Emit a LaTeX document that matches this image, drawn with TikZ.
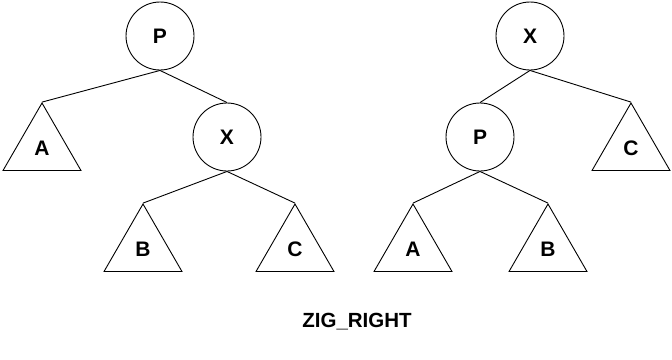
\documentclass[tikz,border=0pt]{standalone}
\usepackage{fontspec}
\setmainfont{Liberation Sans}
\usetikzlibrary{shapes.geometric}
\begin{document}
\begin{tikzpicture}[
    x=1pt, y=-1pt, line width=0.9pt,
    every node/.style={font=\bfseries\fontsize{21}{24}\selectfont},
    % Key node style
    key node/.style={
        circle, draw, minimum size=68pt, inner sep=0pt
    },
    % Subtree triangle style
    subtree/.style={
        regular polygon, regular polygon sides=3, draw,
        minimum size=90pt, inner sep=0pt
    },
    % Parent-child edge style
    link/.style={draw},
    % Caption style
    caption label/.style={font=\bfseries\fontsize{20.5}{23}\selectfont}
]
\useasboundingbox (0,0) rectangle (672,359);

% --- Before rotation ---
\node[key node] (lp) at (160,36) {P};
\node[key node] (lx) at (227,137) {X};
\node[subtree] (la) at (42,148) {A};
\node[subtree] (lb) at (143,249) {B};
\node[subtree] (lc) at (295,249) {C};

\draw[link] (lp.south) -- (la.corner 1);
\draw[link] (lp.south) -- (lx.north);
\draw[link] (lx.south) -- (lb.corner 1);
\draw[link] (lx.south) -- (lc.corner 1);

% --- After rotation ---
\node[key node] (rx) at (530,36) {X};
\node[key node] (rp) at (480,137) {P};
\node[subtree] (rc) at (631,148) {C};
\node[subtree] (ra) at (413,249) {A};
\node[subtree] (rb) at (548,249) {B};

\draw[link] (rx.south) -- (rp.north);
\draw[link] (rx.south) -- (rc.corner 1);
\draw[link] (rp.south) -- (ra.corner 1);
\draw[link] (rp.south) -- (rb.corner 1);

% --- Caption ---
\node[caption label] (title) at (357,322) {ZIG\_RIGHT};

\end{tikzpicture}
\end{document}
